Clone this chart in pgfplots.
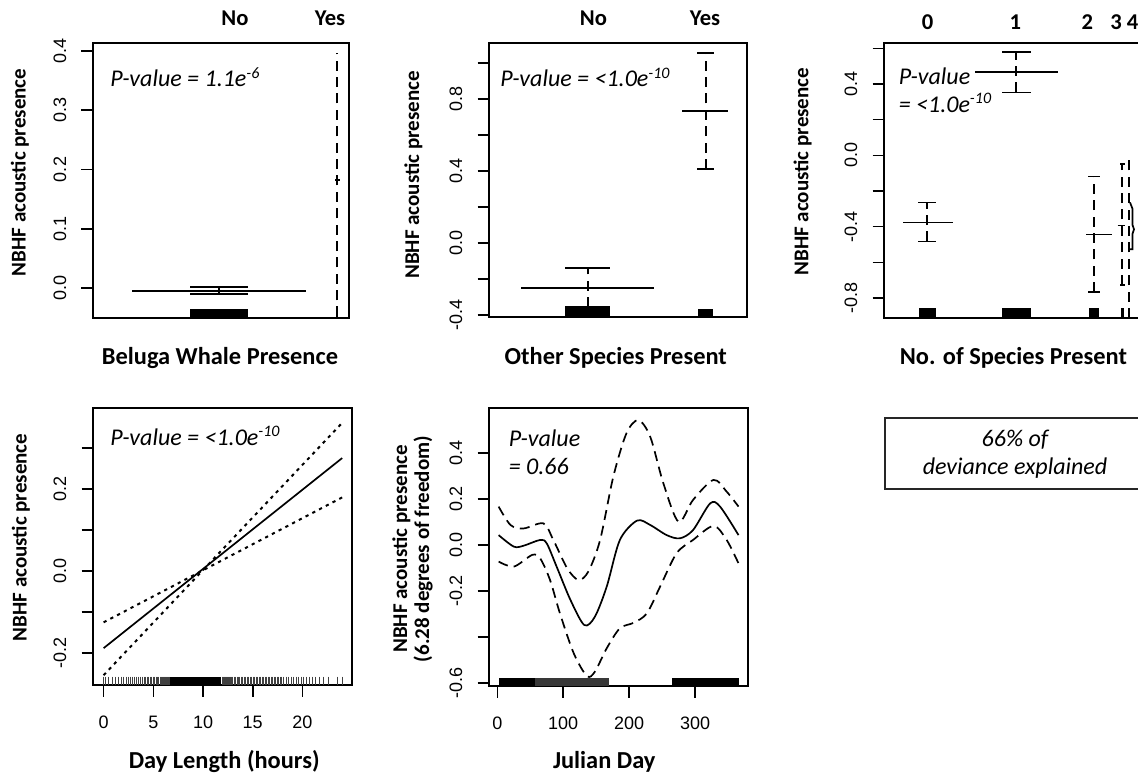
\documentclass[border=0pt]{standalone}
\usepackage{pgfplots}
\pgfplotsset{compat=1.18}
\usepackage{fontspec}
\setmainfont{Carlito}
\newfontfamily\arialf{Liberation Sans}
\newcommand\tickf{\arialf\fontsize{9}{9}\selectfont}
\newcommand\xlabf{\bfseries\fontsize{12.2}{12.2}\selectfont}
\newcommand\ylabf{\bfseries\fontsize{10.5}{11}\selectfont}
\newcommand\catf{\bfseries\fontsize{11.3}{11.3}\selectfont}
\newcommand\pf{\itshape\fontsize{12}{14}\selectfont}
\begin{document}
\begin{tikzpicture}
\useasboundingbox (0pt,0pt) rectangle (569pt,388pt);
\pgfplotsset{
  panel/.style={
    scale only axis, anchor=south west,
    axis line style={line width=1pt},
    tick style={line width=0.8pt, black},
    major tick length=5.75pt,
    tick align=outside,
    ytick pos=left,
    xtick pos=bottom,
    xtick=\empty,
    yticklabel style={font=\tickf, rotate=90, anchor=center, inner sep=0pt},
    xticklabel style={font=\tickf, anchor=center, inner sep=0pt},
    yticklabel shift=10.75pt,
    xticklabel shift=12.75pt,
  },
  pl/.style={line width=0.85pt, black},
  cid/.style={line width=0.85pt, black, dash pattern=on 5pt off 3.2pt},
  rugr/.style={fill=black, draw=none},
}
% ---------------- Panel 1 ----------------
\begin{axis}[panel, at={(46.5pt,229pt)}, width=128pt, height=137.5pt,
  xmin=93, xmax=349, ymin=-0.0506, ymax=0.4135,
  ytick={0,0.1,0.2,0.3,0.4}, yticklabels={0.0,0.1,0.2,0.3,0.4}]
\addplot[rugr] coordinates {(190,-0.0506)(190,-0.0354)(248,-0.0354)(248,-0.0506)} -- cycle;
\addplot[pl] coordinates {(132,-0.0051)(306,-0.0051)};
\addplot[pl] coordinates {(190,0.0012)(248,0.0012)};
\addplot[pl] coordinates {(190,-0.0101)(248,-0.0101)};
\addplot[pl] coordinates {(219,-0.0101)(219,0.0012)};
\addplot[cid] coordinates {(337,-0.0484)(337,0.397)};
\addplot[pl] coordinates {(335,0.182)(339.5,0.182)};
\addplot[pl] coordinates {(337,-0.0506)(337,-0.031)};
\end{axis}
% ---------------- Panel 2 ----------------
\begin{axis}[panel, at={(244.5pt,229.5pt)}, width=129pt, height=137pt,
  xmin=489, xmax=747, ymin=-0.411, ymax=1.111,
  ytick={-0.4,-0.2,0,0.2,0.4,0.6,0.8,1.0}, yticklabels={-0.4,,0.0,,0.4,,0.8,}]
\addplot[rugr] coordinates {(565,-0.411)(565,-0.361)(610,-0.361)(610,-0.411)} -- cycle;
\addplot[rugr] coordinates {(698,-0.411)(698,-0.367)(713,-0.367)(713,-0.411)} -- cycle;
\addplot[pl] coordinates {(521,-0.25)(654,-0.25)};
\addplot[pl] coordinates {(565,-0.139)(610,-0.139)};
\addplot[pl] coordinates {(565,-0.356)(610,-0.356)};
\addplot[cid] coordinates {(588,-0.356)(588,-0.139)};
\addplot[pl] coordinates {(682,0.733)(728,0.733)};
\addplot[pl] coordinates {(697,1.056)(714,1.056)};
\addplot[pl] coordinates {(697,0.411)(714,0.411)};
\addplot[cid] coordinates {(706,0.411)(706,1.056)};
\end{axis}
% ---------------- Panel 3 ----------------
\begin{axis}[panel, at={(442pt,229pt)}, width=130pt, height=137.5pt,
  xmin=884, xmax=1144, ymin=-0.912, ymax=0.63,
  ytick={-0.8,-0.6,-0.4,-0.2,0,0.2,0.4,0.6}, yticklabels={-0.8,,-0.4,,0.0,,0.4,}]
\addplot[rugr] coordinates {(919,-0.912)(919,-0.858)(936,-0.858)(936,-0.912)} -- cycle;
\addplot[rugr] coordinates {(1002,-0.912)(1002,-0.858)(1031,-0.858)(1031,-0.912)} -- cycle;
\addplot[rugr] coordinates {(1089,-0.912)(1089,-0.858)(1099,-0.858)(1099,-0.912)} -- cycle;
\addplot[rugr] coordinates {(1121,-0.912)(1121,-0.858)(1124,-0.858)(1124,-0.912)} -- cycle;
\addplot[pl] coordinates {(1129.3,-0.912)(1129.3,-0.858)};
% level 0
\addplot[pl] coordinates {(903,-0.376)(953,-0.376)};
\addplot[pl] coordinates {(918,-0.264)(936,-0.264)};
\addplot[pl] coordinates {(918,-0.483)(936,-0.483)};
\addplot[cid] coordinates {(927,-0.483)(927,-0.264)};
% level 1
\addplot[pl] coordinates {(975,0.466)(1058,0.466)};
\addplot[pl] coordinates {(1002,0.578)(1031,0.578)};
\addplot[pl] coordinates {(1002,0.353)(1031,0.353)};
\addplot[cid] coordinates {(1016,0.353)(1016,0.578)};
% level 2
\addplot[pl] coordinates {(1086,-0.443)(1112,-0.443)};
\addplot[pl] coordinates {(1088,-0.118)(1100,-0.118)};
\addplot[pl] coordinates {(1088,-0.767)(1100,-0.767)};
\addplot[cid] coordinates {(1094,-0.767)(1094,-0.118)};
% level 3
\addplot[pl] coordinates {(1117.7,-0.393)(1125,-0.393)};
\addplot[pl] coordinates {(1120,-0.05)(1124.5,-0.05)};
\addplot[pl] coordinates {(1120,-0.727)(1124.5,-0.727)};
\addplot[cid] coordinates {(1122.3,-0.727)(1122.3,-0.05)};
% level 4
\addplot[cid] coordinates {(1129.3,-0.912)(1129.3,0.0)};
\addplot[pl] coordinates {(1130,-0.264)(1132.5,-0.30)(1132.5,-0.39)(1134,-0.415)(1132.5,-0.44)(1132.5,-0.527)(1130,-0.527)};
\end{axis}
% ---------------- Panel 4 ----------------
\begin{axis}[panel, at={(46.5pt,45.5pt)}, width=129.7pt, height=138.35pt,
  xmin=-1.07, xmax=25.03, ymin=-0.278, ymax=0.3975,
  xtick={0,5,10,15,20}, xticklabels={0,5,10,15,20},
  ytick={-0.2,-0.1,0,0.1,0.2,0.3}, yticklabels={-0.2,,0.0,,0.2,}]
\addplot[rugr] coordinates {(6.7,-0.278)(6.7,-0.258)(11.8,-0.258)(11.8,-0.278)} -- cycle;
\addplot[only marks, mark=|, mark size=2.1pt, mark options={line width=0.3pt, black!75}] coordinates {
(0.0,-0.268)(0.15,-0.268)(0.5,-0.268)(0.85,-0.268)(1.2,-0.268)(1.5,-0.268)(1.75,-0.268)(2.0,-0.268)
(2.25,-0.268)(2.5,-0.268)(2.7,-0.268)(2.9,-0.268)(3.1,-0.268)(3.3,-0.268)(3.5,-0.268)(3.7,-0.268)
(3.9,-0.268)(4.05,-0.268)(4.2,-0.268)(4.35,-0.268)(4.5,-0.268)(4.65,-0.268)(4.8,-0.268)(4.95,-0.268)
(5.1,-0.268)(5.25,-0.268)(5.4,-0.268)(5.55,-0.268)(5.7,-0.268)(5.85,-0.268)(5.95,-0.268)(6.05,-0.268)
(6.15,-0.268)(6.25,-0.268)(6.35,-0.268)(6.45,-0.268)(6.55,-0.268)(6.65,-0.268)
(11.9,-0.268)(12.0,-0.268)(12.1,-0.268)(12.2,-0.268)(12.3,-0.268)(12.4,-0.268)(12.5,-0.268)(12.6,-0.268)
(12.7,-0.268)(12.8,-0.268)(12.95,-0.268)(13.1,-0.268)(13.25,-0.268)(13.4,-0.268)(13.55,-0.268)(13.7,-0.268)
(13.85,-0.268)(14.0,-0.268)
(14.15,-0.268)(14.3,-0.268)(14.45,-0.268)(14.6,-0.268)(14.75,-0.268)(14.9,-0.268)(15.05,-0.268)(15.2,-0.268)
(15.35,-0.268)(15.5,-0.268)(15.65,-0.268)(15.8,-0.268)(15.95,-0.268)(16.1,-0.268)(16.25,-0.268)(16.4,-0.268)
(16.55,-0.268)(16.7,-0.268)(16.85,-0.268)(17.0,-0.268)(17.15,-0.268)(17.3,-0.268)(17.45,-0.268)(17.6,-0.268)
(17.75,-0.268)(17.9,-0.268)(18.1,-0.268)(18.35,-0.268)(18.6,-0.268)(18.85,-0.268)(19.1,-0.268)(19.35,-0.268)
(19.6,-0.268)(19.85,-0.268)(20.1,-0.268)(20.4,-0.268)(20.7,-0.268)(21.0,-0.268)(21.3,-0.268)(21.7,-0.268)
(22.15,-0.268)(22.65,-0.268)(23.5,-0.268)(24.0,-0.268)};
\addplot[pl] coordinates {(0,-0.188)(24,0.276)};
\addplot[line width=1pt, black, dash pattern=on 1.6pt off 2.2pt] coordinates {(0,-0.254)(24,0.362)};
\addplot[line width=1pt, black, dash pattern=on 1.6pt off 2.2pt] coordinates {(0,-0.125)(24,0.180)};
\end{axis}
% ---------------- Panel 5 ----------------
\begin{axis}[panel, at={(244.5pt,45pt)}, width=129.5pt, height=139pt,
  xmin=-12.6, xmax=380.4, ymin=-0.613, ymax=0.5957,
  xtick={0,100,200,300}, xticklabels={0,100,200,300},
  ytick={-0.6,-0.4,-0.2,0,0.2,0.4}, yticklabels={-0.6,,-0.2,0.0,0.2,0.4}]
\addplot[rugr] coordinates {(2,-0.613)(2,-0.577)(57,-0.577)(57,-0.613)} -- cycle;
\addplot[fill=black!78, draw=none] coordinates {(57,-0.613)(57,-0.577)(169,-0.577)(169,-0.613)} -- cycle;
\addplot[rugr] coordinates {(265,-0.613)(265,-0.577)(366,-0.577)(366,-0.613)} -- cycle;
\addplot[pl, smooth] coordinates {
(2,0.043)(25,-0.007)(40,-0.003)(65,0.022)(75,0.007)(90,-0.094)(111,-0.239)(132,-0.348)
(148,-0.312)(166,-0.181)(186,0.022)(212,0.106)(232,0.087)(257,0.043)(277,0.029)(297,0.065)
(323,0.181)(338,0.167)(366,0.043)};
\addplot[line width=0.85pt, black, dash pattern=on 5pt off 3pt, smooth] coordinates {
(2,0.167)(20,0.087)(40,0.072)(70,0.094)(85,0.022)(106,-0.101)(123,-0.152)(138,-0.116)
(156,0.022)(176,0.297)(196,0.486)(214,0.543)(232,0.471)(252,0.268)(275,0.101)(297,0.196)
(328,0.283)(348,0.232)(366,0.167)};
\addplot[line width=0.85pt, black, dash pattern=on 5pt off 3pt, smooth] coordinates {
(2,-0.072)(25,-0.094)(53,-0.043)(65,-0.058)(80,-0.152)(95,-0.297)(116,-0.471)(136,-0.570)
(148,-0.551)(166,-0.449)(186,-0.362)(207,-0.338)(227,-0.297)(247,-0.181)(272,-0.036)(297,0.022)
(328,0.083)(348,0.022)(366,-0.080)};
\end{axis}
% ---------------- Panel 6 box ----------------
\draw[line width=0.8pt, black!85] (442.5pt,143.5pt) rectangle (580pt,179pt);
\node[anchor=base, font=\pf, inner sep=0pt] at (507.5pt,164.6pt) {66\% of};
\node[anchor=base, font=\pf, inner sep=0pt] at (507.5pt,150.5pt) {deviance explained};
% ---------------- Texts ----------------
% top category labels
\node[anchor=base, font=\catf, inner sep=0pt] at (117.5pt,375pt) {No};
\node[anchor=base, font=\catf, inner sep=0pt] at (165pt,375pt) {Yes};
\node[anchor=base, font=\catf, inner sep=0pt] at (296.7pt,375pt) {No};
\node[anchor=base, font=\catf, inner sep=0pt] at (352.5pt,375pt) {Yes};
\node[anchor=base, font=\catf, inner sep=0pt] at (463.8pt,373.3pt) {0};
\node[anchor=base, font=\catf, inner sep=0pt] at (507.7pt,373.3pt) {1};
\node[anchor=base, font=\catf, inner sep=0pt] at (543.7pt,373.3pt) {2};
\node[anchor=base, font=\catf, inner sep=0pt] at (558pt,373.3pt) {3};
\node[anchor=base, font=\catf, inner sep=0pt] at (566.3pt,373.3pt) {4};
% x labels
\node[anchor=base, font=\xlabf, inner sep=0pt] at (110pt,205.5pt) {Beluga Whale Presence};
\node[anchor=base, font=\xlabf, inner sep=0pt] at (307.9pt,205.5pt) {Other Species Present};
\node[anchor=base, font=\xlabf, inner sep=0pt] at (506.7pt,205.5pt) {No. of Species Present};
\node[anchor=base, font=\xlabf, inner sep=0pt] at (112.1pt,3.9pt) {Day Length (hours)};
\node[anchor=base, font=\xlabf, inner sep=0pt] at (302.1pt,3.9pt) {Julian Day};
% y labels
\node[rotate=90, font=\ylabf, inner sep=0pt] at (10pt,301.75pt) {NBHF acoustic presence};
\node[rotate=90, font=\ylabf, inner sep=0pt] at (206.7pt,300.5pt) {NBHF acoustic presence};
\node[rotate=90, font=\ylabf, inner sep=0pt] at (401.3pt,302.2pt) {NBHF acoustic presence};
\node[rotate=90, font=\ylabf, inner sep=0pt] at (10.4pt,119.25pt) {NBHF acoustic presence};
\node[rotate=90, font=\ylabf, inner sep=0pt, align=center] at (206.25pt,113.5pt) {NBHF acoustic presence\\(6.28 degrees of freedom)};
% P-values
\node[anchor=base west, font=\pf, inner sep=0pt] at (55pt,344.5pt) {P-value = 1.1e\textsuperscript{-6}};
\node[anchor=base west, font=\pf, inner sep=0pt] at (250pt,344.5pt) {P-value = <1.0e\textsuperscript{-10}};
\node[anchor=base west, font=\pf, inner sep=0pt] at (449.2pt,345.5pt) {P-value};
\node[anchor=base west, font=\pf, inner sep=0pt] at (449.2pt,331.7pt) {= <1.0e\textsuperscript{-10}};
\node[anchor=base west, font=\pf, inner sep=0pt] at (55pt,165.2pt) {P-value = <1.0e\textsuperscript{-10}};
\node[anchor=base west, font=\pf, inner sep=0pt] at (254.2pt,164.7pt) {P-value};
\node[anchor=base west, font=\pf, inner sep=0pt] at (254.2pt,150.5pt) {= 0.66};
\end{tikzpicture}
\end{document}
